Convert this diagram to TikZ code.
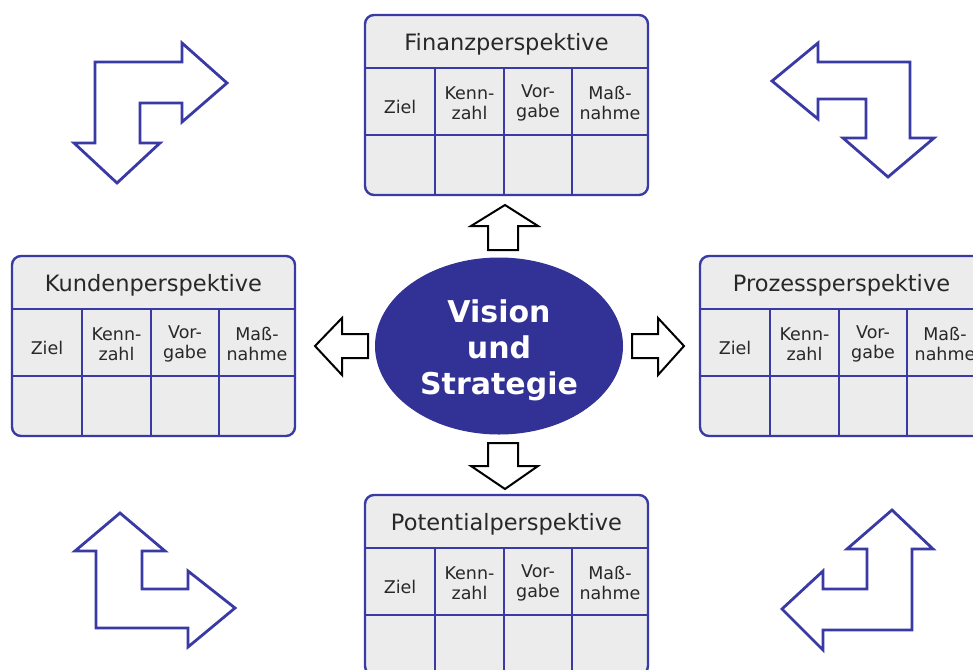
\documentclass[tikz,border=0pt]{standalone}
\usepackage{fontspec}
\setmainfont{DejaVu Sans}
\usetikzlibrary{shapes.geometric}
\definecolor{bscblue}{RGB}{58,58,165}
\definecolor{ovalblue}{RGB}{50,50,150}
\definecolor{cellgray}{RGB}{236,236,236}
\definecolor{txtgray}{RGB}{40,40,40}
\tikzset{
  tframe/.style={draw=bscblue, line width=2.4pt, fill=cellgray, rounded corners=9pt, inner sep=0pt, outer sep=0pt},
  tline/.style={draw=bscblue, line width=2.4pt},
  ttitle/.style={font=\fontsize{22.5}{26}\selectfont, text=txtgray, inner sep=0pt},
  tcell/.style={font=\fontsize{17.5}{20.5}\selectfont, text=txtgray, align=center, inner sep=0pt},
  bigarrow/.style={draw=bscblue, line width=2.8pt, fill=white, line join=miter},
  smallarrow/.style={draw=black, line width=2pt, fill=white, line join=miter},
  oval/.style={ellipse, fill=ovalblue, inner sep=0pt},
  ovaltext/.style={font=\fontsize{30}{36}\selectfont\bfseries, text=white, align=center, inner sep=0pt},
}
\newcommand\bsctab[4]{%
  \begin{scope}[shift={(#2,#3)}]
    \node[tframe, anchor=north west, minimum width=283pt, minimum height=180pt] (#1) at (0,0) {};
    \draw[tline] (0,53) -- (283,53);
    \draw[tline] (0,120) -- (283,120);
    \draw[tline] (70,53) -- (70,180);
    \draw[tline] (139,53) -- (139,180);
    \draw[tline] (207,53) -- (207,180);
    \node[ttitle] (#1-title) at (141.5,29) {#4};
    \node[tcell] (#1-c1) at (35,92) {Ziel};
    \node[tcell] (#1-c2) at (104.5,88) {Kenn-\\zahl};
    \node[tcell] (#1-c3) at (173,88) {Vor-\\gabe};
    \node[tcell] (#1-c4) at (245,88) {Maß-\\nahme};
  \end{scope}}
\begin{document}
\begin{tikzpicture}[x=1pt,y=-1pt]
  \useasboundingbox (0,0) rectangle (973,669);
  \clip (0,0) rectangle (973,669);
  \fill[white] (0,0) rectangle (973,669);

  % perspective tables
  \bsctab{fin}{365}{15}{Finanzperspektive}
  \bsctab{kun}{12}{256}{Kundenperspektive}
  \bsctab{pro}{700}{256}{Prozessperspektive}
  \bsctab{pot}{365}{495}{Potentialperspektive}

  % center oval
  \node[oval, minimum width=248pt, minimum height=177pt] (vision) at (499,346) {};
  \node[ovaltext] (visiontext) at (499,350) {Vision\\und\\Strategie};

  % small block arrows
  \path[smallarrow] (488,250) -- (488,226) -- (471,226) -- (505,205) -- (538,226) -- (518,226) -- (518,250) -- cycle;
  \path[smallarrow] (488,443) -- (518,443) -- (518,466) -- (538,466) -- (505,489) -- (471,466) -- (488,466) -- cycle;
  \path[smallarrow] (368,334) -- (342,334) -- (342,318) -- (315,346) -- (342,375) -- (342,358) -- (368,358) -- cycle;
  \path[smallarrow] (632,334) -- (658,334) -- (658,318) -- (684,346) -- (658,375) -- (658,358) -- (632,358) -- cycle;

  % corner bent arrows
  \path[bigarrow] (95,62) -- (182,62) -- (182,43) -- (227,83) -- (182,122) -- (182,103) -- (140,103) -- (140,143) -- (160,143) -- (117,183) -- (74,143) -- (95,143) -- cycle;
  \path[bigarrow] (772,81) -- (818,43) -- (818,62) -- (910,62) -- (910,138) -- (934,138) -- (888,177) -- (843,138) -- (866,138) -- (866,99) -- (818,99) -- (818,119) -- cycle;
  \path[bigarrow] (120,513) -- (165,551) -- (142,551) -- (142,589) -- (188,589) -- (188,571) -- (235,608) -- (188,647) -- (188,628) -- (96,628) -- (96,551) -- (75,551) -- cycle;
  \path[bigarrow] (892,510) -- (933,549) -- (912,549) -- (912,630) -- (823,630) -- (823,650) -- (782,609) -- (823,571) -- (823,589) -- (867,589) -- (867,549) -- (847,549) -- cycle;
\end{tikzpicture}
\end{document}
